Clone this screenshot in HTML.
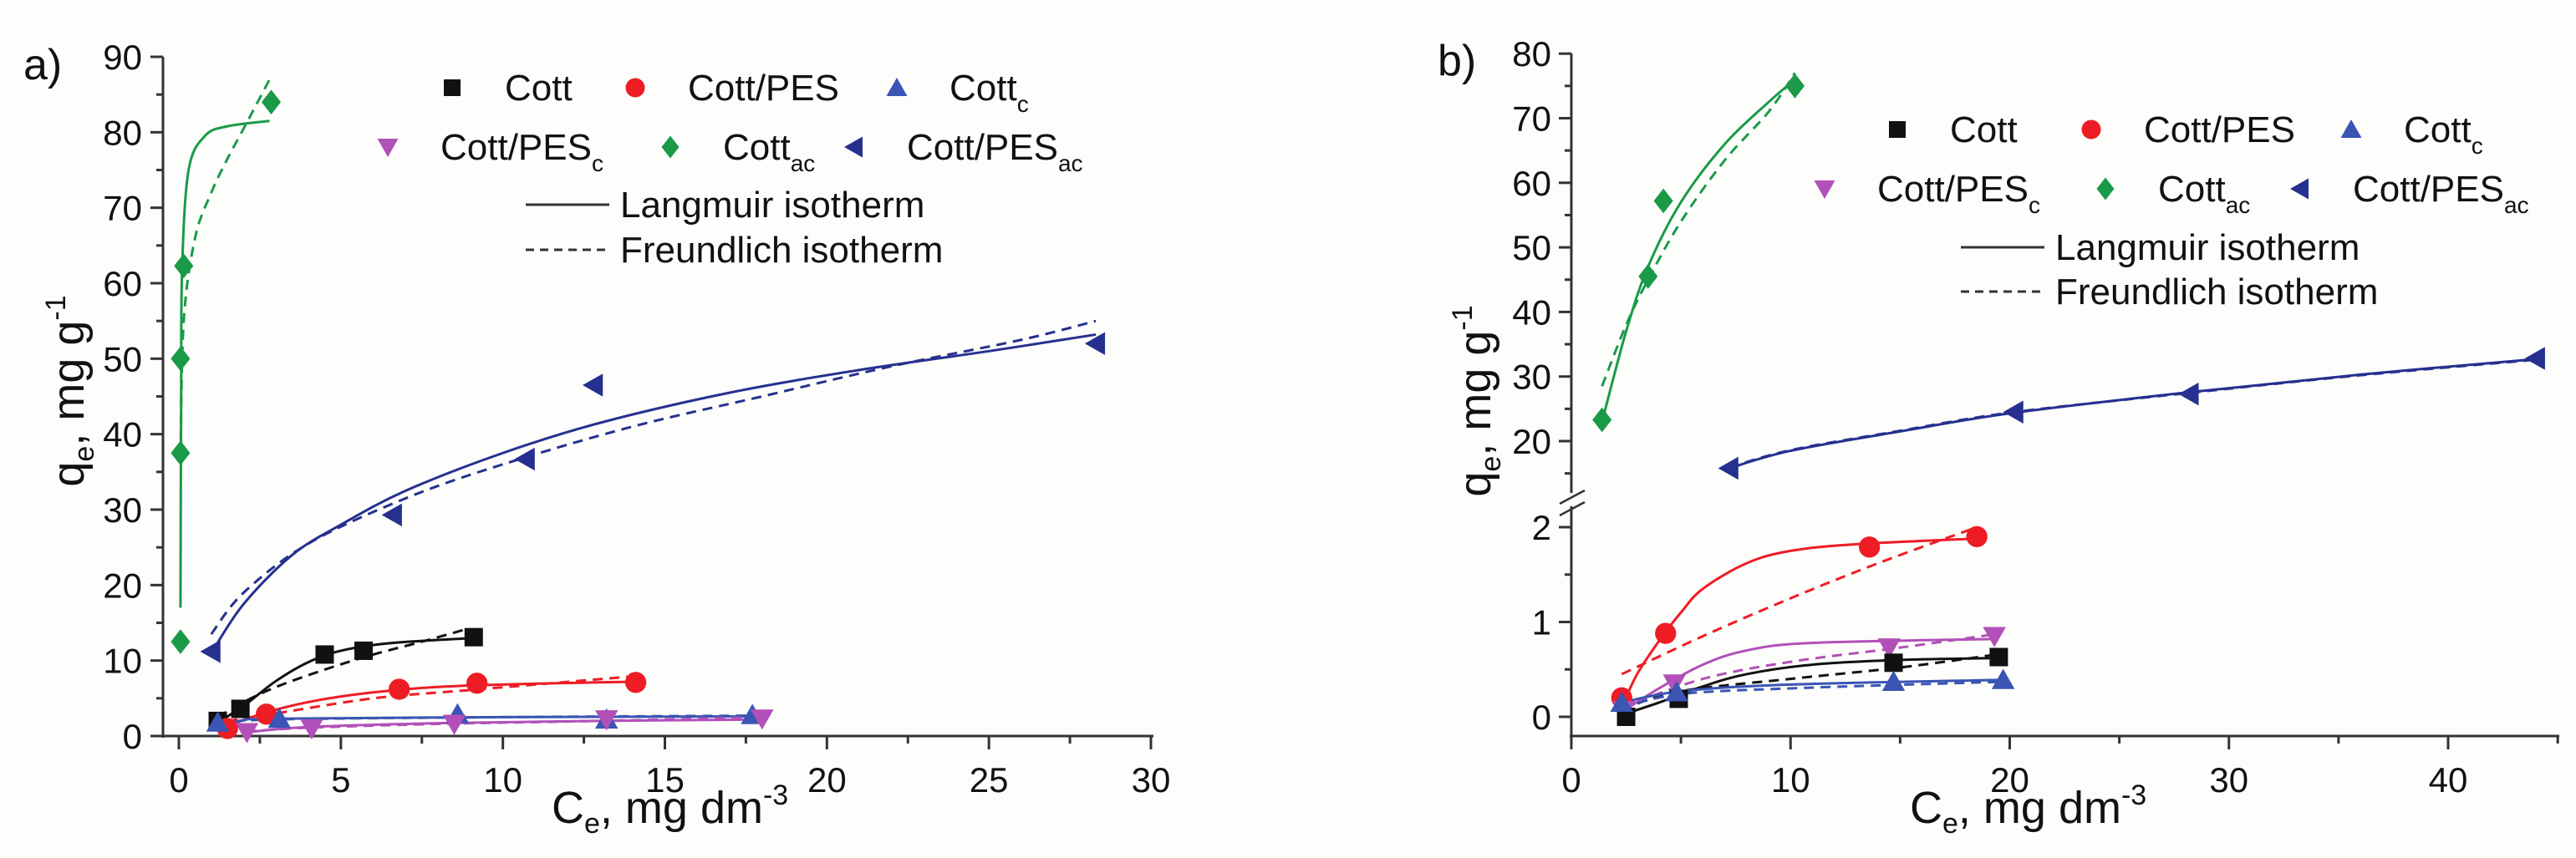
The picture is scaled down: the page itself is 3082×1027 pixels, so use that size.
<!DOCTYPE html>
<html><head><meta charset="utf-8"><style>
html,body{margin:0;padding:0;background:#fdfdfb;}
svg{display:block;font-family:"Liberation Sans",sans-serif;}
</style></head><body>
<svg id="c" width="3082" height="1027" viewBox="0 0 3082 1027" xmlns="http://www.w3.org/2000/svg">
<rect width="3082" height="1027" fill="#fdfdfb"/>
</svg>
<script>
// ---------- Panel a data ----------
const aCott = [[1.2,2.0],[1.9,3.6],[4.5,10.8],[5.7,11.3],[9.1,13.1]];
const aPES = [[1.5,1.0],[2.7,2.9],[6.8,6.2],[9.2,7.0],[14.1,7.1]];
const aCottc = [[1.2,1.8],[3.1,2.3],[8.6,2.9],[13.2,2.2],[17.7,2.8]];
const aPESc = [[2.1,0.5],[4.1,1.0],[8.5,1.6],[13.2,2.2],[18.0,2.3]];
const aCottac = [[0.05,12.5],[0.05,37.5],[0.05,50],[0.15,62.3],[2.85,84]];
const aPESac = [[1.0,11.2],[6.6,29.3],[10.7,36.7],[12.8,46.5],[28.3,52.0]];
const aCottL = [[1.2,1.8],[2,4],[3,7.3],[4,9.8],[5,11.3],[6.5,12.3],[9.1,13]];
const aCottF = [[1.2,2.5],[2,4.5],[3,6.5],[4.5,8.8],[6,10.8],[7.5,12.5],[8.9,14.2]];
const aPESL = [[1.5,1.4],[3,3.5],[4.5,4.9],[6.5,6.0],[9,6.7],[14,7.2]];
const aPESF = [[1.5,2.0],[3,3.0],[6,5.0],[9,6.1],[14,7.9]];
const aCottcL = [[1.2,1.3],[2,2.1],[3,2.3],[10,2.5],[17.7,2.6]];
const aCottcF = [[1.2,1.7],[3,2.2],[10,2.5],[17.7,2.7]];
const aPEScL = [[2.1,0.5],[4,1.2],[8,1.7],[13,2.0],[18,2.2]];
const aPEScF = [[2.1,0.6],[4,1.1],[8,1.6],[13,2.0],[18,2.5]];
const aCottacL = [[0.05,17],[0.07,45],[0.1,62],[0.3,75],[0.8,79.5],[1.5,80.8],[2.8,81.5]];
const aCottacF = [[0.05,37],[0.15,55],[0.5,66],[1,72],[1.5,76.5],[2,80.5],[2.8,87]];
const aPESacL = [[1,11],[2,17.5],[3.5,24],[5,28],[7,32.5],[10,37.5],[13,41.5],[17,45.5],[21,48.5],[25,51],[28.3,53.2]];
const aPESacF = [[1,13.5],[2,19],[4,25.5],[7,31.5],[10,36],[14,41],[18,45],[22,49],[26,52.5],[28.3,55]];
const aXTicks = [0,5,10,15,20,25,30];
const aYTicks = [0,10,20,30,40,50,60,70,80,90];
// ---------- Panel b data ----------
const bCottac = [[1.4,23.3],[3.5,45.5],[4.2,57.2],[10.2,75]];
const bPESac = [[7.2,15.8],[20.2,24.5],[28.2,27.3],[44,32.8]];
const bCott = [[2.5,0.0],[4.9,0.19],[14.7,0.57],[19.5,0.63]];
const bPES = [[2.3,0.2],[4.3,0.88],[13.6,1.79],[18.5,1.9]];
const bCottc = [[2.3,0.15],[4.8,0.26],[14.7,0.37],[19.7,0.39]];
const bPESc = [[2.4,0.07],[4.7,0.35],[14.5,0.73],[19.3,0.85]];
const bCottacL = [[1.4,23],[2.5,37],[3.5,47],[5,57],[7,66],[9,72.5],[10.2,76]];
const bCottacF = [[1.4,28.5],[2.5,38],[3.5,45],[5,54],[7,63.5],[9,71],[10.2,77]];
const bPESacL = [[7.2,15.8],[10,18.5],[15,21.5],[20,24.3],[28,27.5],[36,30.3],[44,32.7]];
const bPESacF = [[7.2,15.9],[10,18.6],[15,21.6],[20,24.4],[28,27.4],[36,30.2],[44,32.6]];
const bPESL = [[2.3,0.1],[3,0.45],[4,0.8],[5,1.1],[6,1.35],[8,1.62],[10,1.75],[13,1.82],[18.5,1.88]];
const bPESF = [[2.3,0.45],[6,0.85],[10,1.25],[14,1.62],[18.5,2.0]];
const bPEScL = [[2.3,0.05],[4,0.3],[6,0.55],[8,0.7],[11,0.78],[19.3,0.82]];
const bPEScF = [[2.3,0.1],[6,0.4],[10,0.58],[15,0.73],[19.3,0.87]];
const bCottL = [[2.3,0.02],[4,0.15],[6,0.32],[8,0.45],[11,0.55],[15,0.6],[19.5,0.62]];
const bCottF = [[2.3,0.08],[5,0.27],[10,0.4],[15,0.52],[19.5,0.66]];
const bCottcL = [[2.3,0.15],[5,0.27],[10,0.34],[19.7,0.39]];
const bCottcF = [[2.3,0.1],[5,0.24],[10,0.3],[19.7,0.37]];
const bXTicks = [0,10,20,30,40];
const bYTicksUp = [20,30,40,50,60,70,80];
const bYTicksLow = [0,1,2];

const NS='http://www.w3.org/2000/svg';
const svg=document.getElementById('c');
function el(t,a,p){const e=document.createElementNS(NS,t);for(const k in a)e.setAttribute(k,a[k]);(p||svg).appendChild(e);return e;}
const COL={black:'#111',red:'#ee1c25',blue:'#3a55b4',mag:'#b150b9',green:'#1a9a48',navy:'#26308f'};

// scales
const axA=v=>214+v*(1377-214)/30;
const ayA=v=>881-v*(881-68)/90;
const bxA=v=>1880+v*(2929-1880)/40;
const byA=v=> v>=10 ? 528-(v-20)*7.73 : 858-v*113.5;

function smooth(pts){
  let d='M'+pts[0][0]+','+pts[0][1];
  for(let i=0;i<pts.length-1;i++){
    const p0=pts[Math.max(0,i-1)],p1=pts[i],p2=pts[i+1],p3=pts[Math.min(pts.length-1,i+2)];
    const c1=[p1[0]+(p2[0]-p0[0])/6,p1[1]+(p2[1]-p0[1])/6];
    const c2=[p2[0]-(p3[0]-p1[0])/6,p2[1]-(p3[1]-p1[1])/6];
    d+=' C'+c1[0]+','+c1[1]+' '+c2[0]+','+c2[1]+' '+p2[0]+','+p2[1];
  }
  return d;
}
function curve(data,sx,sy,color,dash,name){
  const p=el('path',{d:smooth(data.map(q=>[sx(q[0]),sy(q[1])])),fill:'none',stroke:color,'stroke-width':3,'stroke-dasharray':dash?'12 8':'none'});
  
  
}
function marker(shape,x,y,color,s){
  let e;
  if(shape==='sq') e=el('rect',{x:x-s,y:y-s,width:2*s,height:2*s,fill:color});
  else if(shape==='ci') e=el('circle',{cx:x,cy:y,r:s*1.15,fill:color});
  else if(shape==='up') e=el('polygon',{points:`${x},${y-s*1.2} ${x-s*1.25},${y+s} ${x+s*1.25},${y+s}`,fill:color});
  else if(shape==='dn') e=el('polygon',{points:`${x},${y+s*1.2} ${x-s*1.25},${y-s} ${x+s*1.25},${y-s}`,fill:color});
  else if(shape==='di') e=el('polygon',{points:`${x},${y-s*1.35} ${x+s*1.05},${y} ${x},${y+s*1.35} ${x-s*1.05},${y}`,fill:color});
  else e=el('polygon',{points:`${x-s*1.2},${y} ${x+s},${y-s*1.25} ${x+s},${y+s*1.25}`,fill:color});
  return e;
}
function points(data,sx,sy,shape,color,name){
  data.forEach(q=>{const m=marker(shape,sx(q[0]),sy(q[1]),color,11);
    
    });
}
function text(x,y,str,size,anchor,name,extra){
  const t=el('text',Object.assign({x:x,y:y,'font-size':size,'text-anchor':anchor||'start',fill:'#111'},extra||{}));
  t.innerHTML=str;
  
  
  return t;
}
function line(x1,y1,x2,y2,name,w){const l=el('line',{x1,y1,x2,y2,stroke:'#333','stroke-width':w||3});return l;}

// ---------- Panel a axes ----------
line(195,68,195,883,'y-axis-a');
line(193,881,1380,881,'x-axis-a');
aYTicks.forEach(v=>{line(180,ayA(v),195,ayA(v),'y-tick-a');text(170,ayA(v)+15,v,42,'end','y-tick-label-a');});
aYTicks.slice(0,-1).forEach(v=>line(187,ayA(v+5),195,ayA(v+5),'y-minor-tick-a'));
aXTicks.forEach(v=>{line(axA(v),881,axA(v),897,'x-tick-a');text(axA(v),948,v,42,'middle','x-tick-label-a');});
aXTicks.slice(0,-1).forEach(v=>line(axA(v+2.5),881,axA(v+2.5),890,'x-minor-tick-a'));
text(28,95,'a)',52,'start','panel-label-a');
text(660,985,'C<tspan font-size="34" dy="12">e</tspan><tspan dy="-12">, mg dm</tspan><tspan font-size="34" dy="-22">-3</tspan>',54,'start','x-axis-title-a');
text(0,0,'q<tspan font-size="34" dy="12">e</tspan><tspan dy="-12">, mg g</tspan><tspan font-size="34" dy="-22">-1</tspan>',54,'middle','y-axis-title-a',{transform:'translate(100,468) rotate(-90)'});

// panel a curves
curve(aCottacL,axA,ayA,COL.green,false,'cottac-langmuir-a');
curve(aCottacF,axA,ayA,COL.green,true,'cottac-freundlich-a');
curve(aPESacL,axA,ayA,COL.navy,false,'cottpesac-langmuir-a');
curve(aPESacF,axA,ayA,COL.navy,true,'cottpesac-freundlich-a');
curve(aCottL,axA,ayA,COL.black,false,'cott-langmuir-a');
curve(aCottF,axA,ayA,COL.black,true,'cott-freundlich-a');
curve(aPESL,axA,ayA,COL.red,false,'cottpes-langmuir-a');
curve(aPESF,axA,ayA,COL.red,true,'cottpes-freundlich-a');
curve(aCottcL,axA,ayA,COL.blue,false,'cottc-langmuir-a');
curve(aCottcF,axA,ayA,COL.blue,true,'cottc-freundlich-a');
curve(aPEScL,axA,ayA,COL.mag,false,'cottpesc-langmuir-a');
curve(aPEScF,axA,ayA,COL.mag,true,'cottpesc-freundlich-a');
points(aCottac,axA,ayA,'di',COL.green,'cottac-point-a');
points(aPESac,axA,ayA,'le',COL.navy,'cottpesac-point-a');
points(aCott,axA,ayA,'sq',COL.black,'cott-point-a');
points(aPES,axA,ayA,'ci',COL.red,'cottpes-point-a');
points(aCottc,axA,ayA,'up',COL.blue,'cottc-point-a');
points(aPESc,axA,ayA,'dn',COL.mag,'cottpesc-point-a');

// ---------- Panel b axes ----------
line(1880,64,1880,590,'y-axis-upper-b');
line(1880,606,1880,883,'y-axis-lower-b');
line(1866,603,1896,587,'axis-break-b',2.5);
line(1866,617,1896,601,'axis-break-b',2.5);
line(1878,881,3062,881,'x-axis-b');
bYTicksUp.forEach(v=>{line(1865,byA(v),1880,byA(v),'y-tick-b');text(1856,byA(v)+15,v,42,'end','y-tick-label-b');});
bYTicksUp.forEach(v=>line(1872,byA(v-5),1880,byA(v-5),'y-minor-tick-b'));
bYTicksLow.forEach(v=>{line(1865,byA(v),1880,byA(v),'y-tick-b');text(1856,byA(v)+15,v,42,'end','y-tick-label-b');});
[0.5,1.5].forEach(v=>line(1872,byA(v),1880,byA(v),'y-minor-tick-b'));
bXTicks.forEach(v=>{line(bxA(v),881,bxA(v),897,'x-tick-b');text(bxA(v),948,v,42,'middle','x-tick-label-b');});
[5,15,25,35,45].forEach(v=>line(bxA(v),881,bxA(v),890,'x-minor-tick-b'));
text(1720,90,'b)',52,'start','panel-label-b');
text(2285,985,'C<tspan font-size="34" dy="12">e</tspan><tspan dy="-12">, mg dm</tspan><tspan font-size="34" dy="-22">-3</tspan>',54,'start','x-axis-title-b');
text(0,0,'q<tspan font-size="34" dy="12">e</tspan><tspan dy="-12">, mg g</tspan><tspan font-size="34" dy="-22">-1</tspan>',54,'middle','y-axis-title-b',{transform:'translate(1783,480) rotate(-90)'});

curve(bCottacL,bxA,byA,COL.green,false,'cottac-langmuir-b');
curve(bCottacF,bxA,byA,COL.green,true,'cottac-freundlich-b');
curve(bPESacL,bxA,byA,COL.navy,false,'cottpesac-langmuir-b');
curve(bPESacF,bxA,byA,COL.navy,true,'cottpesac-freundlich-b');
curve(bPESL,bxA,byA,COL.red,false,'cottpes-langmuir-b');
curve(bPESF,bxA,byA,COL.red,true,'cottpes-freundlich-b');
curve(bPEScL,bxA,byA,COL.mag,false,'cottpesc-langmuir-b');
curve(bPEScF,bxA,byA,COL.mag,true,'cottpesc-freundlich-b');
curve(bCottL,bxA,byA,COL.black,false,'cott-langmuir-b');
curve(bCottF,bxA,byA,COL.black,true,'cott-freundlich-b');
curve(bCottcL,bxA,byA,COL.blue,false,'cottc-langmuir-b');
curve(bCottcF,bxA,byA,COL.blue,true,'cottc-freundlich-b');
points(bCottac,bxA,byA,'di',COL.green,'cottac-point-b');
points(bPESac,bxA,byA,'le',COL.navy,'cottpesac-point-b');
points(bPES,bxA,byA,'ci',COL.red,'cottpes-point-b');
points(bPESc,bxA,byA,'dn',COL.mag,'cottpesc-point-b');
points(bCott,bxA,byA,'sq',COL.black,'cott-point-b');
points(bCottc,bxA,byA,'up',COL.blue,'cottc-point-b');

// ---------- Legends ----------
function legend(ox,oy,suffix,r1,r2,r3,r4,lineX){
  const items=[
    ['sq',COL.black,'Cott',r1[0],oy],
    ['ci',COL.red,'Cott/PES',r1[1],oy],
    ['up',COL.blue,'Cott<tspan font-size="28" dy="14">c</tspan>',r1[2],oy],
    ['dn',COL.mag,'Cott/PES<tspan font-size="28" dy="14">c</tspan>',r2[0],oy+71],
    ['di',COL.green,'Cott<tspan font-size="28" dy="14">ac</tspan>',r2[1],oy+71],
    ['le',COL.navy,'Cott/PES<tspan font-size="28" dy="14">ac</tspan>',r2[2],oy+71]];
  items.forEach(it=>{
    const m=marker(it[0],it[3],it[4],it[1],10);
    
    
    text(it[3]+63,it[4]+15,it[2],44,'start','legend-entry-'+suffix);
  });
  line(lineX,r3,lineX+100,r3,'legend-langmuir-line-'+suffix);
  text(lineX+113,r3+15,'Langmuir isotherm',44,'start','legend-langmuir-'+suffix);
  const d=line(lineX,r4,lineX+100,r4,'legend-freundlich-line-'+suffix);
  d.setAttribute('stroke-dasharray','10 7');
  text(lineX+113,r4+15,'Freundlich isotherm',44,'start','legend-freundlich-'+suffix);
}
legend(0,105,'a',[541,760,1073],[464,802,1022],245,299,629);
legend(0,155,'b',[2270,2502,2813],[2183,2519,2752],296,349,2346);
</script>
</body></html>
